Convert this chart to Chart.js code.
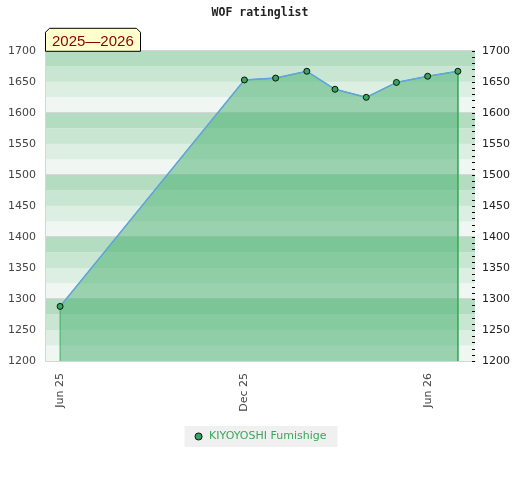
<!DOCTYPE html>
<html>
<head>
<meta charset="utf-8">
<title>WOF ratinglist</title>
<script src="https://cdn.jsdelivr.net/npm/chart.js@4.4.0/dist/chart.umd.min.js"></script>
<style>
  html, body { margin: 0; padding: 0; background: #fff; }
  #wrap { width: 520px; height: 480px; position: relative; }
</style>
</head>
<body>
<div id="wrap"><canvas id="ratingChart"></canvas></div>
<script>
// === data ===
const playerName = "KIYOYOSHI Fumishige";
const seasonLabel = "2025\u20142026";
const ratingDates = ["2025-06-01", "2025-12-01", "2026-01-01", "2026-02-01", "2026-03-01",
                     "2026-04-01", "2026-05-01", "2026-06-01", "2026-07-01"];
const ratingValues = [1288, 1653, 1656, 1667, 1638, 1625, 1649, 1659, 1667];
const tickDates = ["2025-06-01", "2025-12-01", "2026-06-01"];
const tickLabels = ["Jun 25", "Dec 25", "Jun 26"];
const xMin = "2025-05-17";
const xMax = "2026-07-18";
const yMin = 1200;
const yMax = 1700;

// band colours inside every 100 points, bottom to top
const bandColors = ["#f0f7f2", "#ddeee3", "#c8e6d2", "#b3dcc1"];

const points = ratingDates.map((d, i) => ({ x: Date.parse(d), y: ratingValues[i] }));
const areaPoints = [{ x: points[0].x, y: yMin }, ...points, { x: points[points.length - 1].x, y: yMin }];

// background bands + legend box
const bandsPlugin = {
  id: "bands",
  beforeDraw(chart) {
    const { ctx, chartArea: a } = chart;
    const y = chart.scales.y;
    ctx.save();
    for (let v = yMin; v < yMax; v += 25) {
      const top = y.getPixelForValue(v + 25);
      const bottom = y.getPixelForValue(v);
      ctx.fillStyle = bandColors[(v % 100) / 25];
      ctx.fillRect(a.left, top, a.right - a.left, bottom - top);
    }
    const hb = chart.legend && chart.legend.legendHitBoxes[0];
    if (hb) {
      ctx.fillStyle = "#f0f0f0";
      ctx.fillRect(hb.left - 9, hb.top + hb.height / 2 - 10.5, hb.width + 20, 21);
    }
    ctx.restore();
  },
  afterDraw(chart) {
    const { ctx, chartArea: a } = chart;
    const y = chart.scales.y;
    ctx.save();
    // minor ticks on the right edge
    ctx.strokeStyle = "#000";
    ctx.lineWidth = 1;
    ctx.beginPath();
    for (let v = yMin; v <= yMax; v += 10) {
      const py = Math.round(y.getPixelForValue(v)) + 0.5;
      ctx.moveTo(a.right - 3, py);
      ctx.lineTo(a.right, py);
    }
    ctx.stroke();

    // season label box
    const l = a.left + 0.5, r = a.left + 95.5, t = a.top - 23 + 0.5, b = a.top + 0.5;
    ctx.beginPath();
    ctx.moveTo(l, b);
    ctx.lineTo(l, t + 4);
    ctx.lineTo(l + 4, t);
    ctx.lineTo(r - 4, t);
    ctx.lineTo(r, t + 4);
    ctx.lineTo(r, b);
    ctx.closePath();
    ctx.fillStyle = "#ffffcc";
    ctx.fill();
    ctx.strokeStyle = "#000";
    ctx.stroke();
    ctx.fillStyle = "#8b0000";
    ctx.font = "15px 'Liberation Sans'";
    ctx.textBaseline = "alphabetic";
    ctx.fillText(seasonLabel, a.left + 7, a.top - 5);
    ctx.restore();
  }
};

Chart.defaults.font.family = "'DejaVu Sans'";
Chart.defaults.font.size = 11;

const ctx = document.getElementById("ratingChart").getContext("2d");
new Chart(ctx, {
  type: "line",
  data: {
    datasets: [
      {
        label: playerName,
        data: points,
        borderColor: "#62a4dc",
        borderWidth: 1.5,
        backgroundColor: "#36a55d",
        pointBackgroundColor: "#36a55d",
        pointBorderColor: "#111",
        pointBorderWidth: 1,
        pointRadius: 3,
        pointStyle: "circle",
        fill: false,
        tension: 0
      },
      {
        label: "area",
        data: areaPoints,
        borderColor: "#3cae5e",
        borderWidth: 1,
        backgroundColor: "rgba(67,174,108,0.5)",
        pointRadius: 0,
        fill: "start",
        tension: 0
      }
    ]
  },
  options: {
    responsive: true,
    maintainAspectRatio: false,
    animation: false,
    layout: { padding: { top: 0, left: 0, right: 0, bottom: 28 } },
    plugins: {
      title: {
        display: true,
        text: "WOF ratinglist",
        color: "#222",
        font: { family: "'DejaVu Sans Mono'", weight: "bold", size: 11.5 },
        padding: { top: 6, bottom: 31 }
      },
      legend: {
        position: "bottom",
        labels: {
          usePointStyle: true,
          boxWidth: 10,
          boxHeight: 5,
          padding: 10,
          color: "#3aa85a",
          font: { size: 11 },
          filter: (item) => item.datasetIndex === 0
        }
      },
      tooltip: { enabled: false }
    },
    scales: {
      x: {
        type: "linear",
        min: Date.parse(xMin),
        max: Date.parse(xMax),
        afterBuildTicks: (scale) => {
          scale.ticks = tickDates.map(d => ({ value: Date.parse(d) }));
        },
        afterFit: (scale) => { scale.height = 60; },
        grid: { display: false, drawTicks: false },
        border: { display: true, color: "#d6d6d6" },
        ticks: {
          autoSkip: false,
          minRotation: 90,
          maxRotation: 90,
          padding: 12,
          color: "#444",
          callback: (value, index) => tickLabels[index]
        }
      },
      y: {
        position: "left",
        min: yMin,
        max: yMax,
        afterFit: (scale) => { scale.width = 45; },
        grid: {
          drawTicks: false,
          color: (c) => (c.tick && c.tick.value % 100 === 0) ? "#d6d6d6" : "rgba(0,0,0,0)"
        },
        border: { display: true, color: "#d6d6d6" },
        ticks: { stepSize: 50, padding: 9, color: "#444", callback: (v) => String(v) }
      },
      y2: {
        position: "right",
        min: yMin,
        max: yMax,
        afterFit: (scale) => { scale.width = 45; },
        grid: { display: false, drawTicks: false, drawOnChartArea: false },
        border: { display: false },
        ticks: { stepSize: 50, padding: 7, color: "#222", callback: (v) => String(v) }
      }
    }
  },
  plugins: [bandsPlugin]
});
</script>
</body>
</html>
